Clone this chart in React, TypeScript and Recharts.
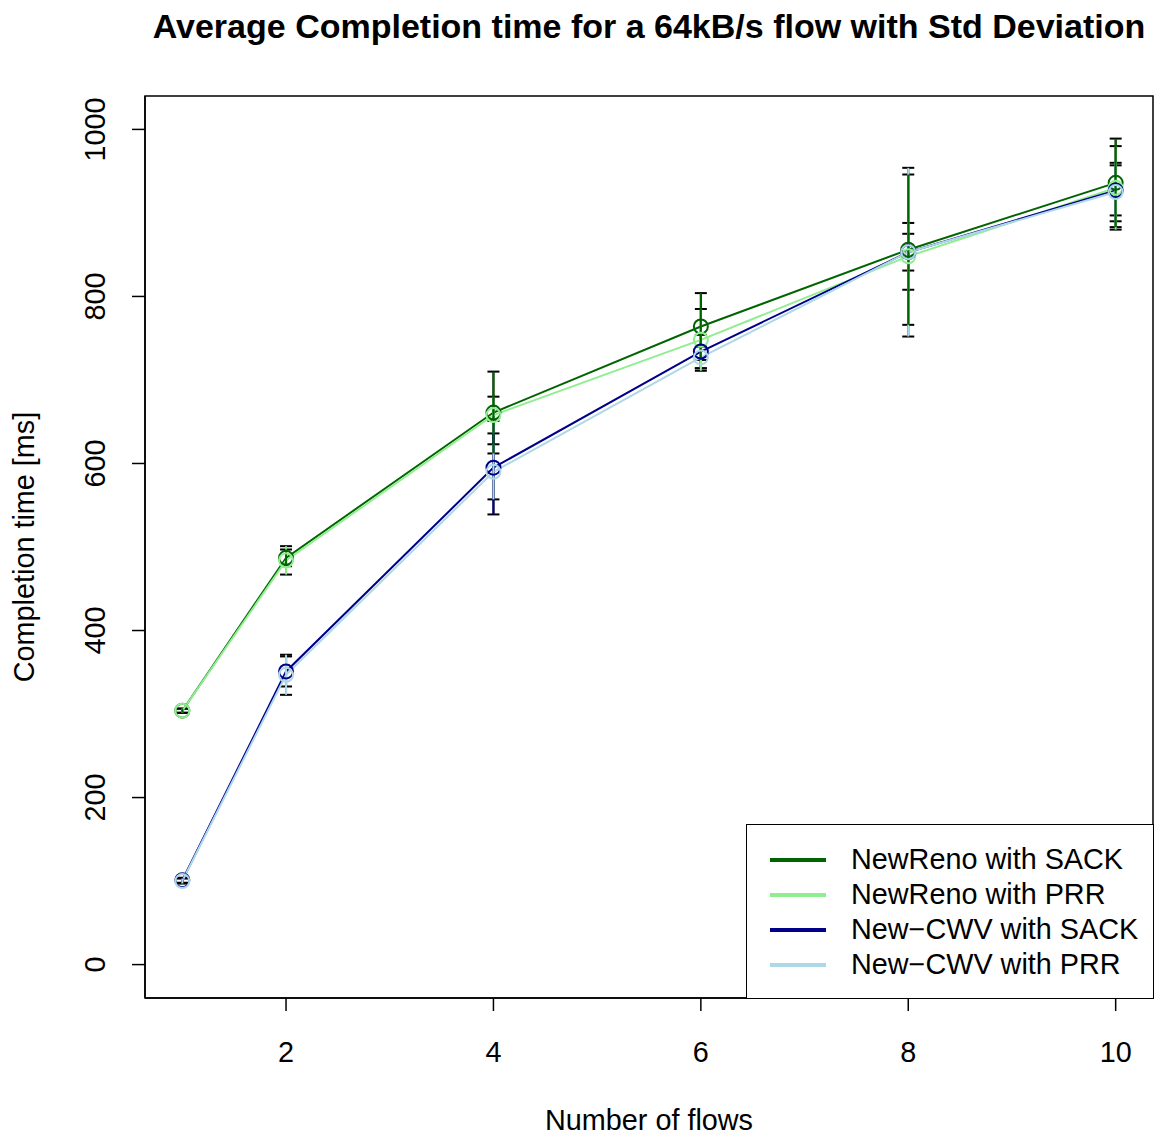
import {
  ErrorBar,
  Legend,
  Line,
  LineChart,
  ReferenceArea,
  XAxis,
  YAxis,
} from "recharts";

const FONT = "'Liberation Sans', Arial, Helvetica, sans-serif";

const flows = [1, 2, 4, 6, 8, 10];
const xTicks = [2, 4, 6, 8, 10];
const yTicks = [0, 200, 400, 600, 800, 1000];

const newRenoSack = [304, 487, 661, 764, 856, 936];
const newRenoSackSd = [2.5, 10, 49, 40, 90, 53];
const newRenoPrr = [304, 484, 658, 748, 848, 930];
const newRenoPrrSd = [2.5, 17, 22, 37, 40, 50];
const cwvSack = [101, 351, 595, 734, 853, 927];
const cwvSackSd = [3, 18, 56, 20, 22, 30];
const cwvPrr = [100, 347, 590, 727, 853, 925];
const cwvPrrSd = [3, 24, 33, 13, 101, 35];

const series = [
  { key: "nrSack", name: "NewReno with SACK", color: "#006400" },
  { key: "nrPrr", name: "NewReno with PRR", color: "#90EE90" },
  { key: "cwvSack", name: "New\u2212CWV with SACK", color: "#00008B" },
  { key: "cwvPrr", name: "New\u2212CWV with PRR", color: "#ADD8E6" },
];
// order the coloured error-bar stems are stacked in (last on top)
const stemOrder = ["cwvSack", "cwvPrr", "nrPrr", "nrSack"];

const data = flows.map((f, i) => ({
  flows: f,
  nrSack: newRenoSack[i],
  nrSackErr: newRenoSackSd[i],
  nrPrr: newRenoPrr[i],
  nrPrrErr: newRenoPrrSd[i],
  cwvSack: cwvSack[i],
  cwvSackErr: cwvSackSd[i],
  cwvPrr: cwvPrr[i],
  cwvPrrErr: cwvPrrSd[i],
}));

const XTick = ({ x, y, payload }: any) => (
  <text x={x} y={y + 39} textAnchor="middle" dominantBaseline="central" fontSize={28.8} fontFamily={FONT} fill="#000">
    {payload.value}
  </text>
);

const YTick = ({ x, y, payload }: any) => (
  <text
    x={x - 35}
    y={y}
    textAnchor="middle"
    dominantBaseline="central"
    fontSize={28.8}
    fontFamily={FONT}
    fill="#000"
    transform={`rotate(-90, ${x - 35}, ${y})`}
  >
    {payload.value}
  </text>
);

// legend drawn from the series list so the order stays as in the source plot
const LegendBox = () => (
  <div
    style={{
      boxSizing: "border-box",
      width: 408,
      height: 175,
      border: "1.5px solid #000",
      background: "#fff",
      paddingTop: 17,
      fontFamily: FONT,
      fontSize: 28.8,
      color: "#000",
    }}
  >
    {series.map((s) => (
      <div key={s.key} style={{ display: "flex", alignItems: "center", height: 35 }}>
        <span style={{ marginLeft: 23, width: 56, height: 4, background: s.color, display: "inline-block" }} />
        <span style={{ marginLeft: 25, whiteSpace: "nowrap", lineHeight: "35px" }}>{s.name}</span>
      </div>
    ))}
  </div>
);

export default function App() {
  return (
    <div style={{ position: "relative", width: 1154, height: 1136, fontFamily: FONT, overflow: "hidden" }}>
      <style>{"body{margin:0;overflow:hidden}"}</style>
      <div
        style={{
          position: "absolute",
          left: 649,
          top: 7,
          transform: "translateX(-50%)",
          whiteSpace: "nowrap",
          fontWeight: "bold",
          fontSize: 34,
          lineHeight: "38px",
          color: "#000",
        }}
      >
        Average Completion time for a 64kB/s flow with Std Deviation
      </div>
      <LineChart width={1154} height={1136} data={data} margin={{ top: 96, right: 1, bottom: 0, left: 0 }}>
        <XAxis
          dataKey="flows"
          type="number"
          domain={[0.64, 10.36]}
          ticks={xTicks}
          allowDataOverflow
          height={138}
          tickSize={13}
          tick={<XTick />}
          stroke="#000"
          strokeWidth={1.5}
          label={(props: any) => {
            const vb = props.viewBox;
            return (
              <text x={vb.x + vb.width / 2} y={vb.y + 132} textAnchor="middle" fontSize={28.8} fontFamily={FONT}>
                Number of flows
              </text>
            );
          }}
        />
        <YAxis
          type="number"
          domain={[-40, 1040]}
          ticks={yTicks}
          allowDataOverflow
          width={145}
          tickSize={13}
          tick={<YTick />}
          stroke="#000"
          strokeWidth={1.5}
          label={(props: any) => {
            const vb = props.viewBox;
            const cy = vb.y + vb.height / 2;
            return (
              <text
                x={24}
                y={cy}
                textAnchor="middle"
                dominantBaseline="central"
                fontSize={28.8}
                fontFamily={FONT}
                transform={`rotate(-90, 24, ${cy})`}
              >
                Completion time [ms]
              </text>
            );
          }}
        />
        <ReferenceArea x1={0.64} x2={10.36} y1={-40} y2={1040} fill="none" stroke="#000" strokeWidth={1.5} ifOverflow="visible" />
        {series.map((s) => (
          <Line
            key={`${s.key}-caps`}
            dataKey={s.key}
            stroke="none"
            dot={false}
            activeDot={false}
            legendType="none"
            isAnimationActive={false}
          >
            <ErrorBar dataKey={`${s.key}Err`} width={6} stroke="#000" strokeWidth={2} direction="y" />
          </Line>
        ))}
        {series.map((s) => (
          <Line
            key={s.key}
            dataKey={s.key}
            name={s.name}
            stroke={s.color}
            strokeWidth={2}
            isAnimationActive={false}
            dot={{ r: 7, stroke: s.color, strokeWidth: 2, fill: "none" }}
            activeDot={false}
          />
        ))}
        {stemOrder.map((k) => {
          const s = series.find((d) => d.key === k)!;
          return (
            <Line
              key={`${k}-stem`}
              dataKey={k}
              stroke="none"
              dot={false}
              activeDot={false}
              legendType="none"
              isAnimationActive={false}
            >
              <ErrorBar dataKey={`${k}Err`} width={0} stroke={s.color} strokeWidth={2} direction="y" />
            </Line>
          );
        })}
        <Legend
          layout="vertical"
          align="center"
          verticalAlign="middle"
          content={<LegendBox />}
          wrapperStyle={{ position: "absolute", left: 746, top: 824, width: 408, height: 175 }}
        />
      </LineChart>
    </div>
  );
}
